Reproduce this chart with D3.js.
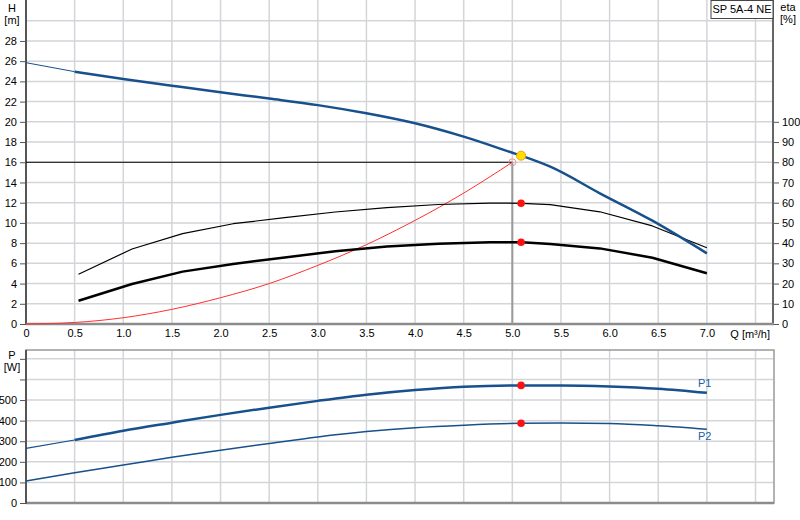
<!DOCTYPE html>
<html lang="en">
<head>
    <meta charset="UTF-8">
    <title> Pump curve </title>
    <script src="https://cdn.jsdelivr.net/npm/d3@7/dist/d3.min.js"></script>
    <style>
        body { margin: 0; background: #fff; }
        text { font-family: "Liberation Sans", Arial, sans-serif; font-size: 11px; }
    </style>
</head>
<body>
<svg width="800" height="520"></svg>
<script>
    // flow ticks (Q, m3/h)
    const qTicks = [0, 0.5, 1.0, 1.5, 2.0, 2.5, 3.0, 3.5, 4.0, 4.5, 5.0, 5.5, 6.0, 6.5, 7.0];
    const qGrid = [0, 0.5, 1, 1.5, 2, 2.5, 3, 3.5, 4, 4.5, 5, 5.5, 6, 6.5, 7, 7.5];
    const hTicks = [0, 2, 4, 6, 8, 10, 12, 14, 16, 18, 20, 22, 24, 26, 28];
    const hGrid = [0, 2, 4, 6, 8, 10, 12, 14, 16, 18, 20, 22, 24, 26, 28, 30];
    const etaTicks = [0, 10, 20, 30, 40, 50, 60, 70, 80, 90, 100];
    const pTicks = [0, 100, 200, 300, 400, 500];
    const pGrid = [0, 100, 200, 300, 400, 500, 600, 700];

    // head curve
    const hQ   = [0, 0.5, 1.0, 1.5, 2.0, 2.5, 3.0, 3.5, 4.0, 4.5, 5.0, 5.09, 5.39, 5.9, 6.44, 7.0];
    const hVal = [25.85, 24.96, 24.23, 23.57, 22.92, 22.3, 21.65, 20.84, 19.85, 18.53, 16.94, 16.65, 15.56, 12.93, 10.22, 6.99];

    // efficiency curves (%)
    const etaQ    = [0.54, 1.09, 1.61, 2.13, 2.66, 3.18, 3.71, 4.24, 4.77, 5.1, 5.39, 5.9, 6.44, 7.0];
    const etaPump = [24.6, 37.1, 44.7, 49.6, 52.6, 55.4, 57.6, 59.1, 59.8, 59.7, 59.0, 55.5, 48.5, 37.7];
    const etaTot  = [11.5, 19.8, 25.9, 29.7, 32.9, 36.0, 38.3, 39.7, 40.4, 40.4, 39.6, 37.4, 32.8, 25.1];

    // system curve
    const sysQ = [0, 0.5, 1.0, 1.5, 2.0, 2.5, 3.0, 3.5, 4.0, 4.5, 5.0];
    const sysH = [0, 0.15, 0.62, 1.45, 2.6, 4.0, 5.8, 7.85, 10.25, 12.95, 16.0];

    // power curves (W)
    const pQ  = [0, 0.5, 1.0, 1.5, 2.0, 2.5, 3.0, 3.5, 4.0, 4.5, 5.1, 5.5, 6.0, 6.5, 7.0];
    const pP1 = [265, 306, 351, 390, 428, 463, 496, 526, 549, 565, 571, 571, 566, 555, 535];
    const pP2 = [107, 147, 184, 222, 256, 289, 321, 347, 366, 378, 387, 388, 386, 375, 358];

    // duty point
    const dutyQ = 5.0, dutyH = 16;
    const opQ = 5.09, opH = 16.65, opEtaPump = 59.7, opEtaTot = 40.4, opP1 = 571, opP2 = 387;

    let svg = d3.select('svg');
    let blue = "#17508c";
    let gridC = "#d3d5d8";

    let x = d3.scaleLinear().domain([0, 7.68]).range([26, 773]);
    let yH = d3.scaleLinear().domain([0, 32]).range([324, 0.5]);
    let yEta = d3.scaleLinear().domain([0, 160]).range([324, 0.5]);
    let yP = d3.scaleLinear().domain([0, 743]).range([503, 350]);

    // ---------- grids ----------
    function grid(yScale, yVals, top, bottom) {
        let g = svg.append("g");
        g.selectAll("line.v").data(qGrid).enter().append("line")
            .attr("x1", d => x(d)).attr("x2", d => x(d))
            .attr("y1", top).attr("y2", bottom)
            .style("stroke", gridC).style("stroke-width", "1.5px");
        g.selectAll("line.h").data(yVals).enter().append("line")
            .attr("x1", x(0)).attr("x2", 773)
            .attr("y1", d => yScale(d)).attr("y2", d => yScale(d))
            .style("stroke", gridC).style("stroke-width", "1.5px");
    }
    grid(yH, hGrid, 0, 324);
    grid(yP, pGrid, 350, 503);

    // ---------- top panel axes ----------
    svg.append("g").attr("transform", "translate(26,0)")
        .call(d3.axisLeft(yH).tickValues(hTicks).tickSize(6).tickFormat(d3.format("d")))
        .call(g => g.select(".domain").remove());
    svg.append("line").attr("x1", 26).attr("x2", 26).attr("y1", 0).attr("y2", 325)
        .style("stroke", "#555").style("stroke-width", "2px");

    svg.append("g").attr("transform", "translate(773,0)")
        .call(d3.axisRight(yEta).tickValues(etaTicks).tickSize(6).tickFormat(d3.format("d")))
        .call(g => g.select(".domain").remove());
    svg.append("line").attr("x1", 773).attr("x2", 773).attr("y1", 0).attr("y2", 325)
        .style("stroke", "#666").style("stroke-width", "2px");

    svg.append("g").attr("transform", "translate(0,324)")
        .call(d3.axisBottom(x).tickValues(qTicks).tickSize(0).tickPadding(5)
            .tickFormat(d => d === 0 ? "0" : d3.format(".1f")(d)))
        .call(g => g.select(".domain").remove());
    svg.append("line").attr("x1", 26).attr("x2", 774).attr("y1", 324).attr("y2", 324)
        .style("stroke", "#8c8c8c").style("stroke-width", "2.5px");

    svg.selectAll(".tick text").style("fill", "#000").style("font-size", "11px");
    svg.selectAll(".tick line").style("stroke", "#555");

    svg.append("text").attr("x", 770).attr("y", 338).attr("text-anchor", "end").text("Q [m³/h]");
    svg.append("text").attr("x", 12).attr("y", 12).attr("text-anchor", "middle").text("H");
    svg.append("text").attr("x", 12).attr("y", 24).attr("text-anchor", "middle").text("[m]");
    svg.append("text").attr("x", 788).attr("y", 11).attr("text-anchor", "middle").text("eta");
    svg.append("text").attr("x", 788).attr("y", 23).attr("text-anchor", "middle").text("[%]");

    // ---------- bottom panel axes ----------
    svg.append("g").attr("transform", "translate(26,0)")
        .call(d3.axisLeft(yP).tickValues(pGrid).tickSize(6)
            .tickFormat(d => pTicks.includes(d) ? d : ""))
        .call(g => g.select(".domain").remove())
        .call(g => g.selectAll("text").style("fill", "#000").style("font-size", "11px"))
        .call(g => g.selectAll("line").style("stroke", "#555"));
    svg.append("rect").attr("x", 26).attr("y", 350).attr("width", 748).attr("height", 153)
        .style("fill", "none").style("stroke", "#999").style("stroke-width", "1.5px");
    svg.append("line").attr("x1", 26).attr("x2", 774).attr("y1", 503).attr("y2", 503)
        .style("stroke", "#8c8c8c").style("stroke-width", "2.5px");
    svg.append("line").attr("x1", 26).attr("x2", 26).attr("y1", 350).attr("y2", 504)
        .style("stroke", "#555").style("stroke-width", "2px");
    svg.append("text").attr("x", 12).attr("y", 359).attr("text-anchor", "middle").text("P");
    svg.append("text").attr("x", 12).attr("y", 371).attr("text-anchor", "middle").text("[W]");

    // ---------- curves ----------
    function draw(qs, vs, yScale, curve, color, width) {
        let pts = qs.map((q, i) => [q, vs[i]]);
        let line = d3.line().x(d => x(d[0])).y(d => yScale(d[1])).curve(curve);
        svg.append("path").datum(pts).attr("d", line)
            .style("fill", "none").style("stroke", color).style("stroke-width", width + "px")
            .style("stroke-linejoin", "round");
    }

    // system curve
    draw(sysQ, sysH, yH, d3.curveMonotoneX, "#ff3030", 1);
    // duty lines
    svg.append("line").attr("x1", x(0)).attr("x2", x(dutyQ)).attr("y1", yH(dutyH)).attr("y2", yH(dutyH))
        .style("stroke", "#000").style("stroke-width", "1px");
    svg.append("line").attr("x1", x(dutyQ)).attr("x2", x(dutyQ)).attr("y1", yH(dutyH)).attr("y2", 324)
        .style("stroke", "#999").style("stroke-width", "2px");

    // efficiency
    draw(etaQ, etaPump, yEta, d3.curveLinear, "#000", 1.2);
    draw(etaQ, etaTot, yEta, d3.curveLinear, "#000", 2.5);

    // head: thin extrapolation then thick
    draw(hQ.slice(0, 2), hVal.slice(0, 2), yH, d3.curveLinear, blue, 1);
    draw(hQ.slice(1), hVal.slice(1), yH, d3.curveMonotoneX, blue, 2.5);

    // power
    draw(pQ.slice(0, 2), pP1.slice(0, 2), yP, d3.curveLinear, blue, 1.2);
    draw(pQ.slice(1), pP1.slice(1), yP, d3.curveMonotoneX, blue, 2.5);
    draw(pQ, pP2, yP, d3.curveMonotoneX, blue, 1.5);

    svg.append("text").attr("x", 698).attr("y", 387).style("fill", "#2060a8").text("P1");
    svg.append("text").attr("x", 698).attr("y", 440).style("fill", "#2060a8").text("P2");

    // ---------- markers ----------
    svg.append("circle").attr("cx", x(dutyQ)).attr("cy", yH(dutyH)).attr("r", 3.5)
        .style("fill", "none").style("stroke", "#f08a8a").style("stroke-width", "1px");
    [[opEtaPump, yEta], [opEtaTot, yEta], [opP1, yP], [opP2, yP]].forEach(function (d) {
        svg.append("circle").attr("cx", x(opQ)).attr("cy", d[1](d[0])).attr("r", 3.8)
            .style("fill", "#ff1010");
    });
    svg.append("circle").attr("cx", x(opQ)).attr("cy", yH(opH)).attr("r", 4.5)
        .style("fill", "#ffe000").style("stroke", "#f0a000").style("stroke-width", "1px");

    // title box
    svg.append("rect").attr("x", 711).attr("y", 0.5).attr("width", 62).attr("height", 18)
        .style("fill", "#fff").style("stroke", "#444").style("stroke-width", "1px");
    svg.append("text").attr("x", 742).attr("y", 13).attr("text-anchor", "middle").text("SP 5A-4 NE");
</script>
</body>
</html>
